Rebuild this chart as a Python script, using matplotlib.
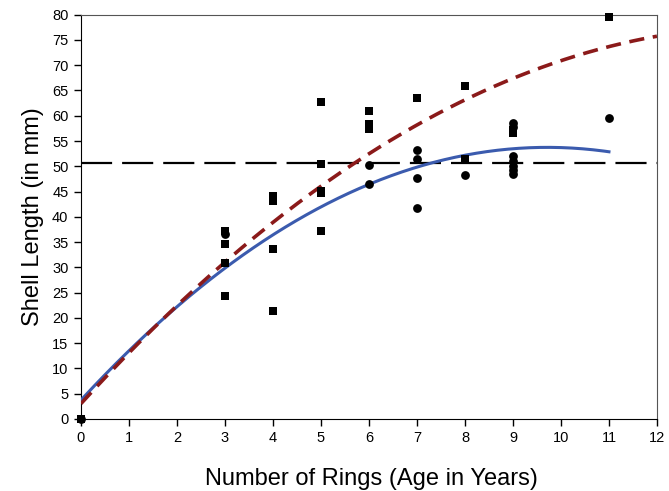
import matplotlib.pyplot as plt
import numpy as np

plt.rcParams['font.family'] = ['Liberation Sans', 'DejaVu Sans']

# observed shells: squares and circles
sq_x = [0, 3, 3, 3, 3, 4, 4, 4, 4, 5, 5, 5, 5, 5, 6, 6, 6, 7, 8, 8, 9, 9, 11]
sq_y = [0, 37.2, 34.7, 30.9, 24.4, 44.1, 43.2, 33.6, 21.4,
        62.7, 50.4, 45.1, 44.8, 37.2, 61.0, 58.3, 57.3, 63.5, 65.9, 51.4,
        57.2, 56.6, 79.6]
ci_x = [0, 3, 6, 6, 7, 7, 7, 7, 8, 9, 9, 9, 9, 9, 9, 9, 11]
ci_y = [0, 36.6, 50.2, 46.5, 53.2, 51.4, 47.7, 41.8, 48.2,
        58.5, 57.8, 52.0, 51.0, 50.0, 49.2, 48.4, 59.5]

# fitted curves (quadratic coefficients c0, c1, c2)
blue_coef = [3.7, 10.3, -0.53]
red_coef = [3.0, 10.43, -0.364]
ref_level = 50.7

BLUE = "#3B5BAE"
RED = "#8B1A1A"

fig = plt.figure(figsize=(6.69, 4.91), dpi=100)
ax = fig.add_axes([0.121, 0.147, 0.861, 0.823])

xb = np.linspace(0, 11, 200)
xr = np.linspace(0, 12, 200)
ax.plot(xb, np.polyval(blue_coef[::-1], xb), color=BLUE, lw=2.2, zorder=3)
ax.plot(xr, np.polyval(red_coef[::-1], xr), color=RED, lw=2.6,
        dashes=(4.2, 2.4), zorder=3)
ax.axhline(ref_level, color="black", lw=1.6, dashes=(14, 4.5), zorder=2)

ax.scatter(sq_x, sq_y, marker="s", s=30, color="black", lw=0, zorder=4,
           clip_on=False)
ax.scatter(ci_x, ci_y, marker="o", s=40, color="black", lw=0, zorder=5,
           clip_on=False)

ax.set_xlim(0, 12)
ax.set_ylim(0, 80)
ax.set_xticks(range(0, 13))
ax.set_yticks(range(0, 81, 5))
ax.tick_params(direction="out", length=5, width=1, labelsize=10.5, pad=4)
for side in ["left", "bottom"]:
    ax.spines[side].set_color("black")
for side in ["top", "right"]:
    ax.spines[side].set_color("#555555")

ax.set_ylabel("Shell Length (in mm)", fontsize=17, labelpad=6)
fig.text(0.555, 0.003, "Number of Rings (Age in Years)", fontsize=17,
         ha="center", va="bottom")

fig.savefig("out.png", dpi=100, facecolor="white")
